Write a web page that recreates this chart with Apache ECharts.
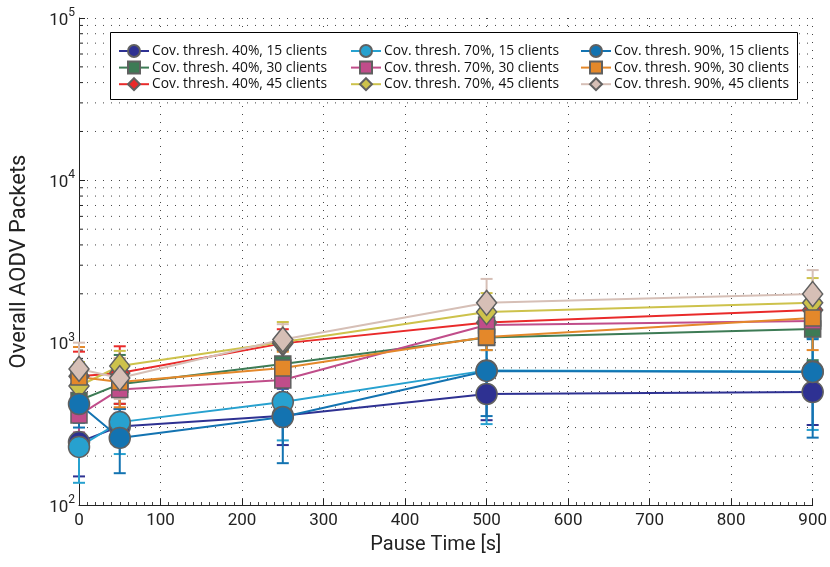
<!DOCTYPE html>
<html>
<head>
<meta charset="utf-8">
<script src="https://cdn.jsdelivr.net/npm/echarts@6/dist/echarts.min.js"></script>
<style>html,body{margin:0;padding:0;background:#fff}#c{width:830px;height:567px}</style>
</head>
<body>
<div id="c"></div>
<script>
// ---------- data ----------
const pauseTimes = [0, 50, 250, 500, 900];
const xTicks = [0, 100, 200, 300, 400, 500, 600, 700, 800, 900];
const yTicks = [100, 1000, 10000, 100000];

const names = [
  'Cov. thresh. 40%, 15 clients', 'Cov. thresh. 40%, 30 clients', 'Cov. thresh. 40%, 45 clients',
  'Cov. thresh. 70%, 15 clients', 'Cov. thresh. 70%, 30 clients', 'Cov. thresh. 70%, 45 clients',
  'Cov. thresh. 90%, 15 clients', 'Cov. thresh. 90%, 30 clients', 'Cov. thresh. 90%, 45 clients'
];

const t40c15 = [244, 305, 355, 483, 497];
const t40c30 = [440, 555, 740, 1075, 1215];
const t40c45 = [620, 650, 990, 1330, 1590];
const t70c15 = [228, 324, 431, 675, 665];
const t70c30 = [358, 515, 589, 1285, 1360];
const t70c45 = [541, 718, 1010, 1545, 1760];
const t90c15 = [419, 259, 348, 670, 660];
const t90c30 = [615, 573, 698, 1084, 1420];
const t90c45 = [689, 605, 1045, 1760, 1995];

// error bar [low, high]
const e40c15 = [[150, 330], [230, 390], [234, 520], [333, 680], [311, 760]];
const e40c30 = [[330, 580], [420, 840], [590, 900], [900, 1300], [780, 1600]];
const e40c45 = [[480, 880], [420, 950], [780, 1210], [1100, 1600], [1300, 1900]];
const e70c15 = [[137, 320], [206, 460], [250, 600], [315, 1000], [290, 1070]];
const e70c30 = [[280, 480], [390, 680], [480, 720], [1000, 1600], [1100, 1600]];
const e70c45 = [[420, 760], [520, 890], [780, 1340], [1200, 2020], [1400, 2500]];
const e90c15 = [[300, 560], [157, 390], [181, 560], [353, 1000], [260, 1050]];
const e90c30 = [[450, 940], [400, 800], [560, 880], [900, 1300], [900, 1800]];
const e90c45 = [[500, 1000], [450, 800], [800, 1300], [1300, 2470], [1500, 2800]];

const minorY = [200,300,400,500,600,700,800,900,2000,3000,4000,5000,6000,7000,8000,9000,20000,30000,40000,50000,60000,70000,80000,90000];

// ---------- styles ----------
const values = [t40c15, t40c30, t40c45, t70c15, t70c30, t70c45, t90c15, t90c30, t90c45];
const errs = [e40c15, e40c30, e40c45, e70c15, e70c30, e70c45, e90c15, e90c30, e90c45];
const colors = ['#2E3192', '#3D7B55', '#E92A2A', '#27A1CF', '#C04D8A', '#CDC24B', '#1373B1', '#E4882A', '#D6BFB6'];
const symbols = ['circle', 'rect', 'diamond', 'circle', 'rect', 'diamond', 'circle', 'rect', 'diamond'];
const sizes = [21, 16, [20, 25], 21, 16, [20, 25], 21, 16, [20, 25]];
const FONT = 'Roboto, "Liberation Sans", sans-serif';
const LFONT = '"Open Sans", Roboto, sans-serif';

const series = [];
series.push({
  type: 'custom', silent: true, z: 1,
  data: minorY.map(v => [0, v]),
  encode: {x: 0, y: 1},
  renderItem(params, api) {
    const v = api.value(1);
    const a = api.coord([0, v]);
    const b = api.coord([900, v]);
    return {type: 'group', children: [
      {type: 'line', shape: {x1: a[0], y1: a[1], x2: b[0], y2: b[1]}, style: {stroke: '#444', lineWidth: 1, lineDash: [1, 7]}},
      {type: 'line', shape: {x1: a[0], y1: a[1], x2: a[0] + 4, y2: a[1]}, style: {stroke: '#222', lineWidth: 1}}
    ]};
  }
});

values.forEach((vals, i) => {
  const col = colors[i];
  series.push({
    type: 'custom', silent: true, z: 3,
    data: pauseTimes.map((x, k) => [x, errs[i][k][0], errs[i][k][1]]),
    encode: {x: 0, y: [1, 2]},
    renderItem(params, api) {
      const x = api.value(0);
      const lo = api.coord([x, api.value(1)]);
      const hi = api.coord([x, api.value(2)]);
      const hw = 6;
      const st = {stroke: col, lineWidth: 2};
      return {type: 'group', children: [
        {type: 'line', shape: {x1: lo[0], y1: lo[1], x2: hi[0], y2: hi[1]}, style: st},
        {type: 'line', shape: {x1: lo[0] - hw, y1: lo[1], x2: lo[0] + hw, y2: lo[1]}, style: st},
        {type: 'line', shape: {x1: hi[0] - hw, y1: hi[1], x2: hi[0] + hw, y2: hi[1]}, style: st}
      ]};
    }
  });
  series.push({
    name: names[i], type: 'line', z: 3,
    data: pauseTimes.map((x, k) => [x, vals[k]]),
    symbol: symbols[i], symbolSize: sizes[i],
    lineStyle: {color: col, width: 2},
    itemStyle: {color: col, borderColor: '#606060', borderWidth: 1.5},
    emphasis: {disabled: true},
    animation: false
  });
});

function legend(left, data) {
  return {
    orient: 'vertical', left: left, top: 39, z: 60,
    itemWidth: 30, itemHeight: 15, itemGap: 2.6,
    data: data, selectedMode: false,
    textStyle: {fontFamily: LFONT, fontSize: 13.8, color: '#111', padding: [0, 0, 0, -2]}
  };
}

const chart = echarts.init(document.getElementById('c'), null, {renderer: 'canvas'});
chart.setOption({
  animation: false,
  backgroundColor: '#fff',
  grid: {left: 78, right: 17, top: 18, bottom: 62, containLabel: false},
  graphic: [{
    type: 'rect', left: 110, top: 32, z: 50,
    shape: {width: 687, height: 67},
    style: {fill: '#fff', stroke: '#000', lineWidth: 1}
  }],
  legend: [
    legend(113, [names[0], names[1], names[2]]),
    legend(345, [names[3], names[4], names[5]]),
    legend(575, [names[6], names[7], names[8]])
  ],
  xAxis: {
    type: 'value', min: 0, max: 900, interval: 100,
    name: 'Pause Time [s]', nameLocation: 'middle', nameGap: 30,
    nameTextStyle: {fontFamily: FONT, fontSize: 20, color: '#222', padding: [0, 20, 0, 0]},
    axisLine: {show: true, lineStyle: {color: '#222', width: 1}},
    axisTick: {show: true, inside: true, length: 6, lineStyle: {color: '#222'}},
    minorTick: {show: true, splitNumber: 10, length: 3, lineStyle: {color: '#444'}},
    axisLabel: {fontFamily: FONT, fontSize: 17, color: '#222', margin: 7,
      formatter: v => xTicks.includes(v) ? String(v) : ''},
    splitLine: {show: true, lineStyle: {color: '#444', width: 1, type: [1, 7]}}
  },
  yAxis: {
    type: 'log', logBase: 10, min: 100, max: 100000,
    name: 'Overall AODV Packets', nameLocation: 'middle', nameGap: 49,
    nameTextStyle: {fontFamily: FONT, fontSize: 22, color: '#222'},
    axisLine: {show: true, lineStyle: {color: '#222', width: 1}},
    axisTick: {show: true, inside: true, length: 6, lineStyle: {color: '#222'}},
    axisLabel: {
      margin: 4,
      formatter: v => yTicks.includes(Math.round(v)) ? '{b|10}{s|' + Math.round(Math.log10(v)) + '}' : '',
      rich: {
        b: {fontFamily: FONT, fontSize: 17, color: '#222', lineHeight: 22, verticalAlign: 'bottom'},
        s: {fontFamily: FONT, fontSize: 12, color: '#222', verticalAlign: 'top'}
      }
    },
    splitLine: {show: true, lineStyle: {color: '#444', width: 1, type: [1, 7]}}
  },
  series: series
});
</script>
</body>
</html>
